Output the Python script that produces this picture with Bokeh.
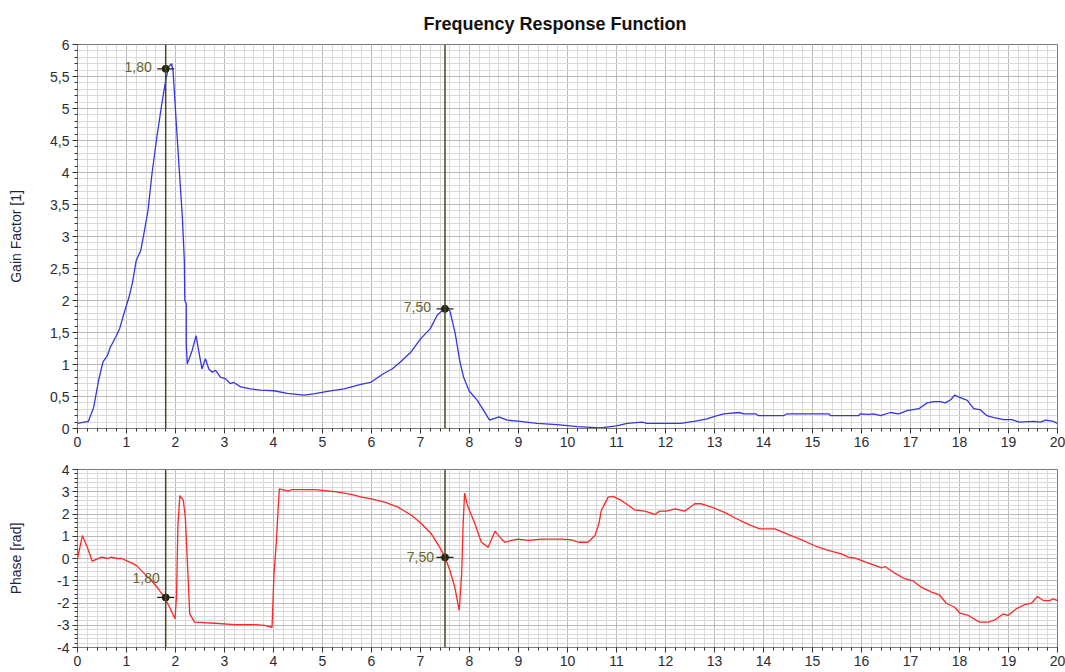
import numpy as np
from bokeh.plotting import figure
from bokeh.layouts import column
from bokeh.models import Range1d, FixedTicker, CustomJSTickFormatter, Span, ColumnDataSource
from bokeh.core.properties import value
from bokeh.embed import file_html
from bokeh.resources import INLINE

# ---------------- data ----------------
gain_freq = [0.00, 0.22, 0.33, 0.43, 0.52, 0.61, 0.67, 0.78, 0.86, 0.95, 1.05, 1.12, 1.20, 1.29, 1.35,
             1.44, 1.52, 1.61, 1.71, 1.80, 1.86, 1.92, 1.95, 2.03, 2.10, 2.14, 2.18, 2.19, 2.22, 2.22,
             2.24, 2.34, 2.42, 2.46, 2.54, 2.61, 2.68, 2.75, 2.82, 2.92, 3.02, 3.12, 3.19, 3.33, 3.53,
             3.73, 4.01, 4.28, 4.62, 4.82, 5.10, 5.44, 5.78, 5.98, 6.25, 6.42, 6.59, 6.80, 7.00, 7.20,
             7.34, 7.44, 7.53, 7.60, 7.71, 7.80, 7.88, 7.99, 8.16, 8.29, 8.41, 8.60, 8.77, 9.04, 9.38,
             9.79, 10.20, 10.67, 11.00, 11.22, 11.52, 11.62, 12.31, 12.58, 12.85, 13.00, 13.19, 13.50,
             13.60, 13.84, 13.90, 14.41, 14.48, 15.33, 15.37, 15.94, 15.98, 16.15, 16.25, 16.39, 16.59,
             16.76, 16.93, 17.17, 17.34, 17.48, 17.61, 17.71, 17.82, 17.90, 17.99, 18.16, 18.29, 18.43,
             18.56, 18.70, 18.90, 19.07, 19.21, 19.52, 19.65, 19.76, 19.92, 20.00]
gain_vals = [0.08, 0.11, 0.33, 0.75, 1.04, 1.14, 1.27, 1.43, 1.56, 1.80, 2.05, 2.27, 2.63, 2.78, 3.02,
             3.41, 3.98, 4.50, 5.02, 5.44, 5.65, 5.70, 5.59, 4.60, 3.77, 3.30, 2.63, 2.00, 1.95, 1.32,
             1.01, 1.22, 1.45, 1.27, 0.93, 1.09, 0.93, 0.88, 0.91, 0.80, 0.78, 0.70, 0.72, 0.65, 0.62,
             0.60, 0.59, 0.55, 0.52, 0.54, 0.58, 0.62, 0.69, 0.72, 0.86, 0.93, 1.04, 1.19, 1.40, 1.56,
             1.77, 1.84, 1.87, 1.84, 1.48, 1.06, 0.80, 0.59, 0.44, 0.28, 0.13, 0.18, 0.13, 0.11, 0.08,
             0.06, 0.03, 0.01, 0.04, 0.08, 0.10, 0.08, 0.08, 0.11, 0.15, 0.19, 0.23, 0.25,
             0.23, 0.23, 0.20, 0.20, 0.23, 0.23, 0.20, 0.20, 0.23, 0.22, 0.23, 0.20, 0.25,
             0.23, 0.28, 0.31, 0.40, 0.42, 0.42, 0.40, 0.45, 0.52, 0.49, 0.44, 0.31, 0.29,
             0.20, 0.17, 0.14, 0.14, 0.10, 0.11, 0.10, 0.13, 0.11, 0.08]

phase_freq = [0.00, 0.10, 0.20, 0.30, 0.49, 0.61, 0.69, 0.80, 0.90, 1.07, 1.20, 1.37, 1.51, 1.65, 1.78,
              1.88, 1.99, 2.02, 2.05, 2.09, 2.16, 2.20, 2.26, 2.29, 2.39, 2.80, 3.21, 3.62, 3.82, 3.97,
              4.01, 4.06, 4.10, 4.12, 4.30, 4.37, 4.84, 5.25, 5.59, 5.80, 6.00, 6.27, 6.54, 6.82, 7.02,
              7.22, 7.39, 7.50, 7.60, 7.70, 7.79, 7.84, 7.87, 7.90, 7.96, 8.11, 8.24, 8.38, 8.52, 8.62,
              8.72, 8.86, 8.99, 9.20, 9.47, 9.88, 10.08, 10.22, 10.42, 10.56, 10.64, 10.69, 10.83, 10.93,
              11.10, 11.37, 11.58, 11.78, 11.88, 12.02, 12.19, 12.39, 12.60, 12.73, 12.94, 13.24, 13.41,
              13.69, 13.92, 14.23, 14.50, 14.78, 15.08, 15.32, 15.59, 15.73, 15.86, 16.14, 16.41, 16.48,
              16.68, 16.88, 17.06, 17.22, 17.43, 17.58, 17.73, 17.90, 18.01, 18.18, 18.41, 18.59, 18.72,
              18.89, 18.99, 19.16, 19.33, 19.47, 19.59, 19.71, 19.84, 19.91, 20.00]
phase_vals = [0.00, 1.03, 0.51, -0.12, 0.06, 0.00, 0.06, 0.00, 0.00, -0.16, -0.31, -0.69, -0.99, -1.36, -1.77,
              -2.19, -2.71, -1.74, 1.56, 2.83, 2.61, 1.86, -0.99, -2.49, -2.86, -2.91, -2.97, -2.97, -3.01, -3.09,
              -0.69, 0.81, 2.46, 3.13, 3.03, 3.10, 3.10, 3.01, 2.88, 2.76, 2.68, 2.53, 2.31, 1.93, 1.56,
              1.11, 0.51, 0.06, -0.54, -1.29, -2.34, -0.69, 1.56, 2.94, 2.38, 1.56, 0.73, 0.51, 1.23, 0.96,
              0.73, 0.81, 0.87, 0.81, 0.87, 0.87, 0.84, 0.73, 0.73, 1.03, 1.56, 2.16, 2.76, 2.79,
              2.61, 2.19, 2.13, 1.98, 2.13, 2.13, 2.23, 2.13, 2.46, 2.46, 2.31, 2.04, 1.83,
              1.53, 1.33, 1.33, 1.08, 0.84, 0.54, 0.36, 0.21, 0.06, 0.03, -0.21, -0.42, -0.36,
              -0.66, -0.91, -1.02, -1.29, -1.51, -1.62, -2.01, -2.19, -2.46, -2.56, -2.86, -2.86, -2.76,
              -2.49, -2.56, -2.26, -2.07, -2.01, -1.71, -1.89, -1.89, -1.81, -1.89]

cursor_freq = [1.80, 7.50]
cursor_gain = [5.62, 1.87]
cursor_phase = [-1.75, 0.05]
cursor_labels = ["1,80", "7,50"]

freq_ticks = list(range(0, 21))
gain_ticks = [0, 0.5, 1, 1.5, 2, 2.5, 3, 3.5, 4, 4.5, 5, 5.5, 6]
phase_ticks = [-4, -3, -2, -1, 0, 1, 2, 3, 4]

# ---------------- style ----------------
FONT = "Liberation Sans"
TICK_COLOR = "#2c2c36"
LABEL_COLOR = "#1e2440"
CURSOR_COLOR = "#4a4a1c"
CURSOR_TEXT = "#66662c"
MARK_COLOR = "#222210"

fmt = CustomJSTickFormatter(code="return (Math.round(tick*10)/10).toString().replace('.', ',');")


def style(p):
    p.background_fill_color = "white"
    p.border_fill_color = "white"
    p.outline_line_color = "#7a7a7a"
    p.outline_line_width = 1
    for g in (p.xgrid, p.ygrid):
        g.grid_line_color = "#b9b9b9"
        g.grid_line_width = 1
        g.minor_grid_line_color = "#dadada"
        g.minor_grid_line_width = 1
    for ax in (p.xaxis, p.yaxis):
        ax.axis_line_color = "#7a7a7a"
        ax.major_tick_line_color = "#333333"
        ax.minor_tick_line_color = "#333333"
        ax.major_tick_out = 5
        ax.major_tick_in = 0
        ax.minor_tick_out = 3
        ax.minor_tick_in = 0
        ax.major_label_text_font = FONT
        ax.major_label_text_font_size = "14px"
        ax.major_label_text_color = TICK_COLOR
        ax.major_label_standoff = 3
        ax.axis_label_text_font = FONT
        ax.axis_label_text_font_size = "14px"
        ax.axis_label_text_font_style = "normal"
        ax.axis_label_text_color = LABEL_COLOR
        ax.formatter = fmt
    p.xaxis.ticker = FixedTicker(ticks=freq_ticks, minor_ticks=list(np.round(np.arange(0, 20.001, 0.2), 2)))


# ---------------- gain plot ----------------
p1 = figure(width=1065, height=458, x_range=Range1d(0, 20), y_range=Range1d(0, 6),
            output_backend="svg", toolbar_location=None,
            min_border_left=77, min_border_right=8, min_border_top=44, min_border_bottom=30)
style(p1)
p1.yaxis.ticker = FixedTicker(ticks=gain_ticks, minor_ticks=list(np.round(np.arange(0, 6.001, 0.1), 2)))
p1.yaxis.axis_label = "Gain Factor [1]"
p1.yaxis.axis_label_standoff = 23
p1.title.text = "Frequency Response Function"
p1.title.text_font = FONT
p1.title.text_font_size = "18px"
p1.title.text_font_style = "bold"
p1.title.text_color = "#111111"
p1.title.align = "left"
p1.title.offset = 340
p1.title.vertical_align = "bottom"
p1.title.padding = 6

p1.line(gain_freq, gain_vals, line_color="#3535e6", line_width=1.3)
for f in cursor_freq:
    p1.add_layout(Span(location=f, dimension="height", line_color=CURSOR_COLOR, line_width=1.5))
src1 = ColumnDataSource(dict(x=cursor_freq, y=cursor_gain, t=cursor_labels))
p1.scatter("x", "y", source=src1, marker="dash", size=17, line_color=MARK_COLOR, line_width=1.3)
p1.scatter("x", "y", source=src1, marker="circle", size=7, fill_color=MARK_COLOR, line_color=MARK_COLOR)
p1.text("x", "y", text="t", source=src1, x_offset=-14, y_offset=-2, text_align="right",
        text_baseline="middle", text_font=value(FONT), text_font_size="14px", text_color=CURSOR_TEXT)

# ---------------- phase plot ----------------
p2 = figure(width=1065, height=214, x_range=Range1d(0, 20), y_range=Range1d(-4, 4),
            output_backend="svg", toolbar_location=None,
            min_border_left=77, min_border_right=8, min_border_top=11, min_border_bottom=25)
style(p2)
p2.yaxis.ticker = FixedTicker(ticks=phase_ticks, minor_ticks=list(np.round(np.arange(-4, 4.001, 0.2), 2)))
p2.yaxis.axis_label = "Phase [rad]"
p2.yaxis.axis_label_standoff = 30

p2.line(phase_freq, phase_vals, line_color="#ff2626", line_width=1.3)
for f in cursor_freq:
    p2.add_layout(Span(location=f, dimension="height", line_color=CURSOR_COLOR, line_width=1.5))
src2 = ColumnDataSource(dict(x=cursor_freq, y=cursor_phase, t=cursor_labels,
                             dx=[-6, -11], dy=[-19, 0]))
p2.scatter("x", "y", source=src2, marker="dash", size=17, line_color=MARK_COLOR, line_width=1.3)
p2.scatter("x", "y", source=src2, marker="circle", size=7, fill_color=MARK_COLOR, line_color=MARK_COLOR)
p2.text("x", "y", text="t", source=src2, x_offset="dx", y_offset="dy", text_align="right",
        text_baseline="middle", text_font=value(FONT), text_font_size="14px", text_color=CURSOR_TEXT)

layout = column(p1, p2, spacing=0)
open("out.html", "w").write(file_html(layout, INLINE))
